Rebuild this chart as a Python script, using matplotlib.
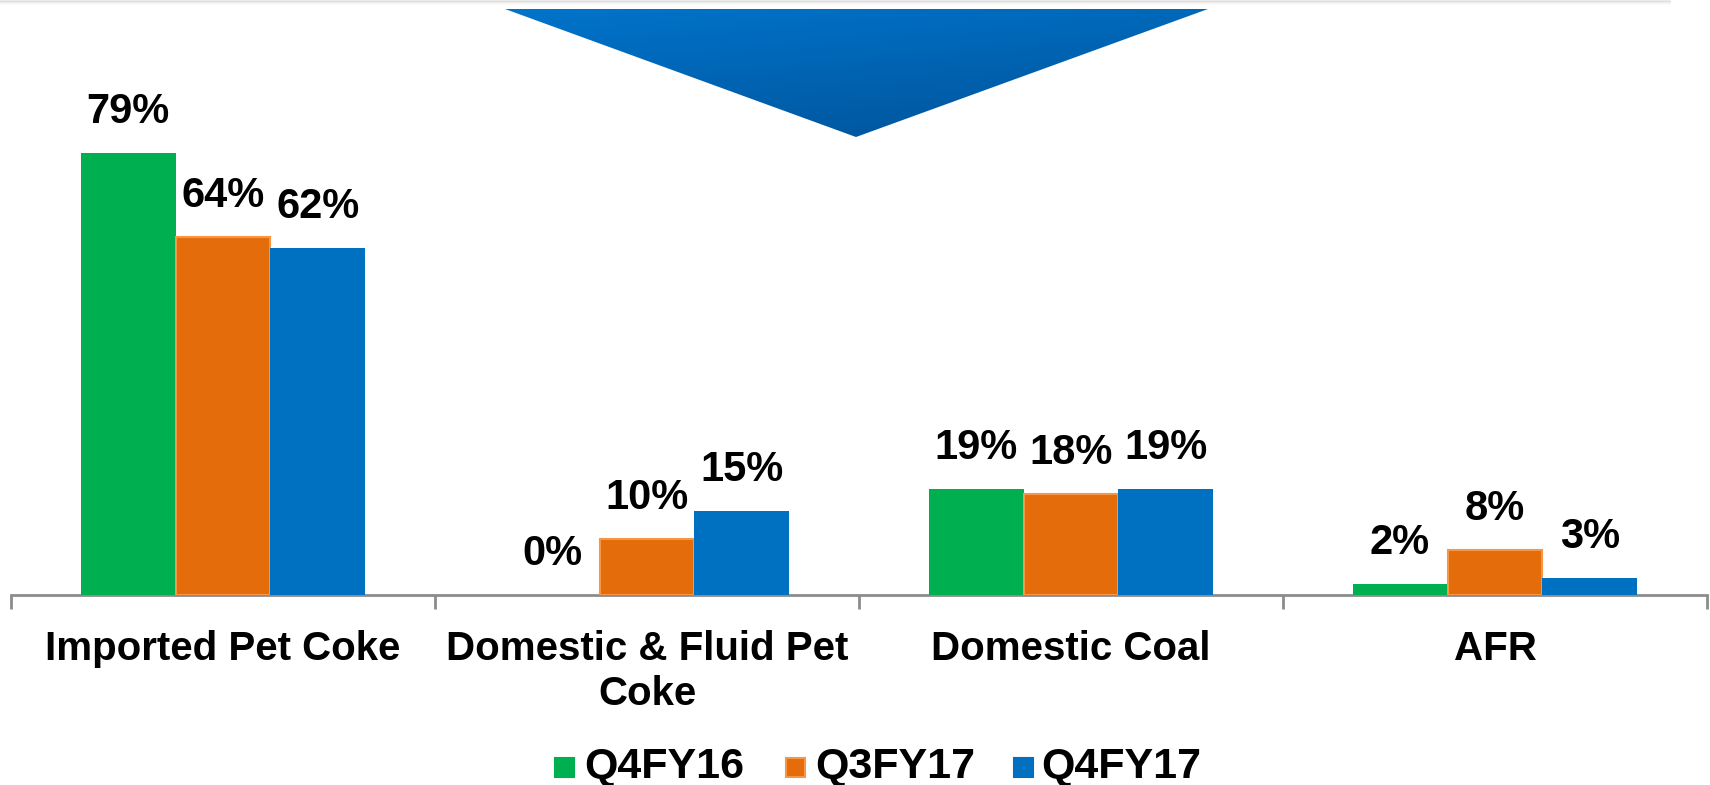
import numpy as np
import matplotlib.pyplot as plt
from matplotlib.patches import Polygon, Rectangle
from matplotlib.lines import Line2D

plt.rcParams['font.family'] = ['Liberation Sans', 'DejaVu Sans']

categories = ["Imported Pet Coke", "Domestic & Fluid Pet\nCoke", "Domestic Coal", "AFR"]
series = ["Q4FY16", "Q3FY17", "Q4FY17"]
q4fy16 = [79, 0, 19, 2]
q3fy17 = [64, 10, 18, 8]
q4fy17 = [62, 15, 19, 3]

colors = ["#00B050", "#E46C0A", "#0070C0"]
edges = ["#00B050", "#F79646", "#0070C0"]
edge_lw = [0, 1.5, 0]

W, H = 1710, 785
fig = plt.figure(figsize=(W / 100, H / 100), dpi=100)

# plot area: baseline at y=595 px, spans full width
ax = fig.add_axes([11 / W, (H - 595) / H, 1696 / W, 595 / H])
ax.set_xlim(-0.5, 3.5)
ax.set_ylim(0, 595 / 5.6)

x = np.arange(len(categories))
bw = 0.224
for i, vals in enumerate([q4fy16, q3fy17, q4fy17]):
    pos = x + (i - 1) * bw
    ax.bar(pos, vals, width=bw, color=colors[i], edgecolor=edges[i],
           linewidth=edge_lw[i], zorder=3)
    for xp, v in zip(pos, vals):
        ax.annotate(f"{v}%", (xp, v), xytext=(0, 15), textcoords="offset points",
                    ha="center", va="bottom", fontsize=30, fontweight="bold")

for s in ["top", "right", "left"]:
    ax.spines[s].set_visible(False)
ax.spines["bottom"].set_color("#8c8c8c")
ax.spines["bottom"].set_linewidth(2)
ax.set_yticks([])
ax.set_xticks(np.arange(-0.5, 4, 1))
ax.set_xticklabels([])
ax.tick_params(axis="x", which="major", length=10, width=2, color="#8c8c8c")
ax.set_xticks(x, minor=True)
ax.set_xticklabels(categories, minor=True, fontsize=29, fontweight="bold",
                   linespacing=1.25, va="top")
ax.tick_params(axis="x", which="minor", length=0, pad=25)

# faint header shadow along the top edge
for k, a in enumerate([0.25, 0.15, 0.08, 0.04]):
    fig.add_artist(Line2D([0, 1670 / W], [1 - (k + 0.5) / H] * 2,
                          transform=fig.transFigure, color="#9a9a9a",
                          alpha=a, lw=1.2))

# gradient arrow at the top
tri = np.array([[505, 9], [1208, 9], [856, 137]], dtype=float)
tri_fig = np.column_stack([tri[:, 0] / W, 1 - tri[:, 1] / H])
gax = fig.add_axes([505 / W, 1 - 137 / H, (1208 - 505) / W, 128 / H])
gax.set_axis_off()
gy, gx = np.mgrid[0:1:64j, 0:1:128j]
t = np.clip(0.65 * gy + 0.35 * gx, 0, 1)
c0 = np.array([0x00, 0x74, 0xCB]) / 255
c1 = np.array([0x00, 0x52, 0x98]) / 255
img = c0[None, None, :] * (1 - t[..., None]) + c1[None, None, :] * t[..., None]
im = gax.imshow(img, extent=[0, 1, 0, 1], origin="upper", aspect="auto")
clip = Polygon(tri_fig, closed=True, transform=fig.transFigure, facecolor="none",
               edgecolor="none")
fig.add_artist(clip)
im.set_clip_path(clip)

# legend row
leg_y = 1 - 767 / H
items = [(555, 584), (786, 815), (1014, 1041)]
for (sx, tx), name, c, ec in zip(items, series, colors, edges):
    fig.add_artist(Rectangle((sx / W, leg_y - 9.5 / H), 19 / W, 19 / H,
                             transform=fig.transFigure, facecolor=c,
                             edgecolor=ec, linewidth=1.5))
    fig.text(tx / W, leg_y, name, fontsize=31, fontweight="bold",
             ha="left", va="center")

fig.savefig("out.png", dpi=100)
